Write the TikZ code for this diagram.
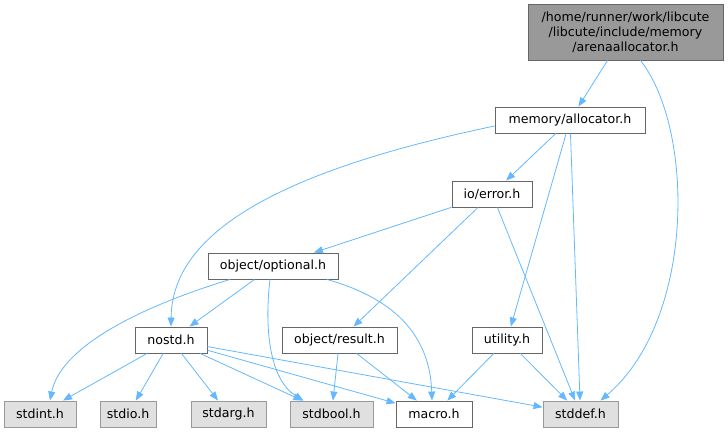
\documentclass[tikz,border=0pt]{standalone}
\usepackage{fontspec}
\setmainfont{DejaVu Sans}
\usepackage{xcolor}
\usepackage{tikz}
\usetikzlibrary{arrows.meta,calc}

\definecolor{edgeblue}{HTML}{63B8FF}
\definecolor{rootgray}{HTML}{999999}
\definecolor{extgray}{HTML}{E0E0E0}
\definecolor{framegray}{HTML}{666666}

\begin{document}
\begin{tikzpicture}[x=1pt,y=-1pt,
    file/.style={draw=framegray,fill=white,line width=0.9pt,minimum height=26pt,
        inner sep=0pt,font=\fontsize{12.6}{15}\selectfont},
    rootfile/.style={file,fill=rootgray,minimum width=195pt,minimum height=56pt,align=center},
    sysfile/.style={file,draw=rootgray,fill=extgray},
    dep/.style={draw=edgeblue,line width=0.8pt,-{Triangle[length=9pt,width=7pt]}}]
    \useasboundingbox (0,0) rectangle (728,432);

    % top of the graph
    \node[rootfile] (root) at (625.5,32) {/home/runner/work/libcute\\/libcute/include/memory\\/arenaallocator.h};
    \node[file,minimum width=150pt] (alloc) at (570,120) {memory/allocator.h};
    \node[file,minimum width=80pt] (err) at (492,194) {io/error.h};
    \node[file,minimum width=130pt] (optional) at (273,266) {object/optional.h};

    % middle row
    \node[file,minimum width=72pt] (nostd) at (171,340) {nostd.h};
    \node[file,minimum width=115pt] (result) at (339.5,340) {object/result.h};
    \node[file,minimum width=70pt] (utility) at (507,340) {utility.h};

    % bottom row
    \node[sysfile,minimum width=72pt] (stdint) at (40,414) {stdint.h};
    \node[sysfile,minimum width=56pt] (stdio) at (128,414) {stdio.h};
    \node[sysfile,minimum width=75pt] (stdarg) at (228.5,414) {stdarg.h};
    \node[sysfile,minimum width=83pt] (stdbool) at (331.5,414) {stdbool.h};
    \node[file,minimum width=76pt] (macro) at (434,414) {macro.h};
    \node[sysfile,minimum width=75pt] (stddef) at (580.5,414) {stddef.h};

    % from the root
    \draw[dep] (root) -- (alloc);
    \draw[dep] ([xshift=15pt]root.south) .. controls (695,130) and (695,320) .. ([xshift=20pt]stddef.north);

    % from memory/allocator.h
    \draw[dep] ([yshift=-6pt]alloc.west) .. controls (260,175) and (172,240) .. (nostd.north);
    \draw[dep] (alloc) -- (err);
    \draw[dep] (alloc) -- (utility);
    \draw[dep] (alloc) -- (stddef);

    % from io/error.h
    \draw[dep] (err) -- (optional);
    \draw[dep] (err) -- (result);
    \draw[dep] (err) -- (stddef);

    % from object/optional.h
    \draw[dep] (optional) -- (nostd);
    \draw[dep] ([xshift=-43pt]optional.south) .. controls (130,310) and (60,350) .. ([xshift=10pt]stdint.north);
    \draw[dep] ([xshift=-3pt]optional.south) .. controls (264,330) and (270,380) .. ([xshift=-28pt]stdbool.north);
    \draw[dep] ([xshift=54pt]optional.south) .. controls (400,300) and (430,340) .. ([xshift=-2pt]macro.north);

    % from nostd.h
    \draw[dep] (nostd) -- ([xshift=23pt]stdint.north);
    \draw[dep] (nostd) -- (stdio);
    \draw[dep] (nostd) -- (stdarg);
    \draw[dep] (nostd) -- (stdbool);
    \draw[dep] (nostd) -- (macro);
    \draw[dep] (nostd) -- (stddef);

    % from object/result.h and utility.h
    \draw[dep] (result) -- (stdbool);
    \draw[dep] (result) -- (macro);
    \draw[dep] (utility) -- (macro);
    \draw[dep] (utility) -- (stddef);
\end{tikzpicture}
\end{document}
